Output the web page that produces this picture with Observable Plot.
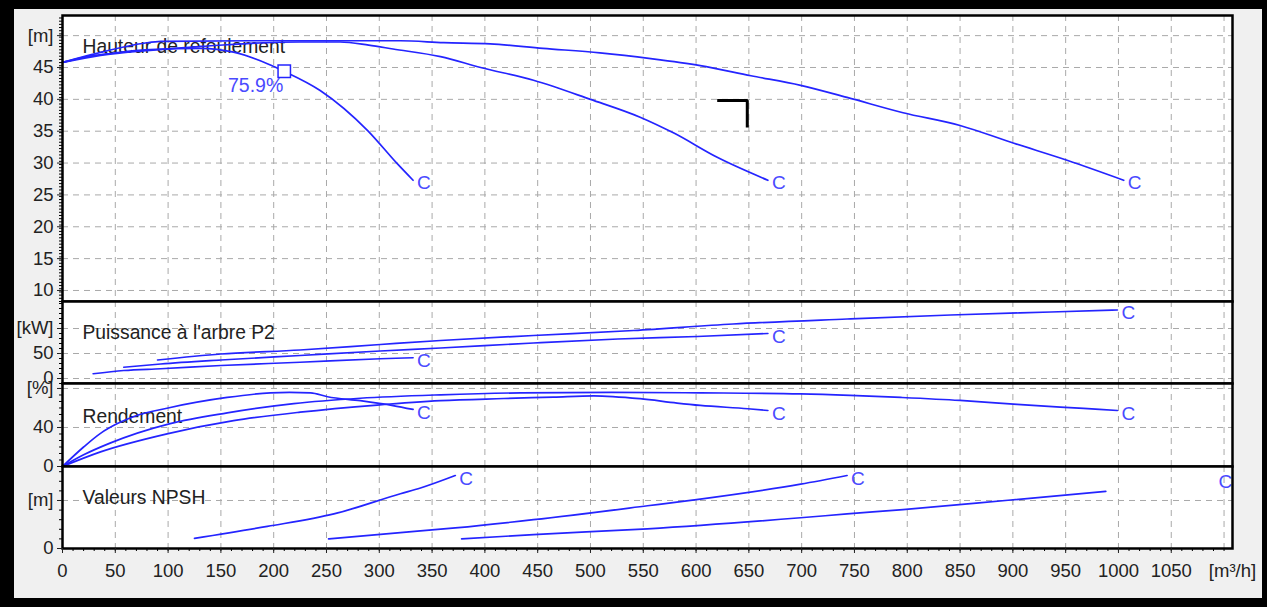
<!DOCTYPE html>
<html><head><meta charset="utf-8">
<script src="https://cdn.jsdelivr.net/npm/d3@7"></script>
<script src="https://cdn.jsdelivr.net/npm/@observablehq/plot@0.6"></script>
<style>
html,body{margin:0;padding:0;background:#000;}
#wrap{position:relative;width:1267px;height:607px;overflow:hidden;background:#000;}
#inner{position:absolute;left:14px;top:9px;width:1248px;height:589px;background:#f0f0f0;}
</style></head><body><div id="wrap"><div id="inner"></div></div>
<script>
// ---------- data ----------
const xTickLabels = [0,50,100,150,200,250,300,350,400,450,500,550,600,650,700,750,800,850,900,950,1000,1050];
const xGridTicks = [50,100,150,200,250,300,350,400,450,500,550,600,650,700,750,800,850,900,950,1000,1050,1100];
const xUnit = "[m³/h]";

const headTicks = [10,15,20,25,30,35,40,45,50];
const powerTicks = [0,50,100];
const effTicks = [0,40,80];
const npshTicks = [0,10];
const units = ["[m]","[kW]","[%]","[m]"];
const panelTitles = ["Hauteur de refoulement","Puissance à l'arbre P2","Rendement","Valeurs NPSH"];

// Hauteur de refoulement [m] vs Q [m³/h]
const headA = [[0,45.8],[20,46.6],[45,47.2],[83,47.8],[131,48.0],[162,47.4],[194,45.6],[210,44.4],[244,41.4],[289,35.1],[317,29.9],[332,27.3]];
const headB = [[0,45.8],[36,46.9],[83,47.7],[131,48.3],[178,48.8],[225,49.0],[263,49.0],[290,48.5],[313,47.9],[358,46.7],[396,45.0],[446,43.0],[500,40.0],[547,37.2],[579,34.7],[620,30.9],[668,27.3]];
const headC = [[0,45.8],[39,47.5],[77,48.8],[93,49.1],[178,49.2],[320,49.2],[361,48.9],[405,48.7],[455,48.0],[509,47.3],[557,46.4],[604,45.3],[652,43.7],[699,42.2],[743,40.3],[796,37.9],[850,35.9],[901,33.1],[952,30.4],[1005,27.3]];

// Puissance à l'arbre P2 [kW]
const powerA = [[29,9.5],[58,16],[93,19.5],[150,26],[225,32.5],[301,39.5],[332,41.5]];
const powerB = [[58,22.5],[93,29],[150,37],[225,46],[301,55],[358,61],[446,71],[526,79],[601,84],[668,90]];
const powerC = [[90,37],[150,49],[225,57],[301,68],[358,76],[446,86],[541,96],[635,109],[743,119],[841,127],[936,133],[999,137]];

// Rendement [%]
const effA = [[0,0],[20,20],[36,34],[52,44],[67,51],[100,60],[156,70.8],[197,75.5],[215,76],[235,75.5],[251,71.5],[282,67.5],[313,62.5],[332,58.5]];
const effB = [[0,0],[36,15],[99,33.5],[162,47],[225,55.7],[298,63],[358,67.5],[418,69.7],[465,71.2],[503,72.5],[547,69.5],[582,65],[604,62.6],[649,59.2],[668,57.4]];
const effC = [[0,0],[20,12],[45,24],[102,44],[156,55],[219,64.5],[282,70],[358,73.5],[434,75.5],[520,76],[604,75.5],[699,74.5],[746,73],[794,70.8],[850,67.7],[904,63.6],[967,59.5],[999,57.4]];

// Valeurs NPSH [m]
const npshA = [[125,2.1],[194,4.6],[257,7.2],[320,11.4],[339,12.6],[372,15.2]];
const npshB = [[252,2.0],[320,3.3],[372,4.3],[446,6.0],[554,8.9],[604,10.3],[699,13.4],[743,15.2]];
const npshC = [[378,2.0],[446,2.9],[554,4.1],[699,6.4],[743,7.2],[796,8.1],[898,10.1],[988,11.9]];
const npshLabels = [[372,15.2],[743,15.2],[1091,14.4]];

// best efficiency point of curve A and duty corner mark
const bepA = [{q:210, h:44.4, eff:75.9}];
const dutyMark = [[620,39.8],[648.5,39.8],[648.5,35.6]];

// ---------- layout / style ----------
const W = 1267, H = 607;
const xDomain = [0, 1108];
const BLUE = "#2424ff", CBLUE = "#4a4aff", GRID = "#a9a9a9", TXT = "#222";
const FONT = "'Liberation Sans', Arial, sans-serif";
const panels = [
  {top:15,  bottom:301, domain:[8.27,53.16], ticks:headTicks,  minor:0.5,  curves:[headA,headB,headC], titleDy:31.4},
  {top:301, bottom:383, domain:[-10,154],    ticks:powerTicks, minor:10,   curves:[powerA,powerB,powerC], titleDy:31.5},
  {top:383, bottom:466, domain:[0,85.1],     ticks:effTicks,   minor:40/6, curves:[effA,effB,effC], titleDy:33},
  {top:466, bottom:548, domain:[0,17.08],    ticks:npshTicks,  minor:2,    curves:[npshA,npshB,npshC], titleDy:31.5}
];

const wrap = document.getElementById("wrap");
const px = d => d[0], py = d => d[1];

panels.forEach((p, i) => {
  const unit = units[i];
  const top = p.ticks[p.ticks.length - 1];
  const minorTicks = d3.range(p.domain[0], p.domain[1], p.minor).map(v => Math.round(v*1000)/1000)
    .filter(v => v >= p.domain[0] && v <= p.domain[1]);
  const ends = i === 3 ? npshLabels : p.curves.map(c => c[c.length - 1]);
  const marks = [
    Plot.frame({fill: "white"}),
    Plot.gridX(xGridTicks, {stroke: GRID, strokeOpacity: 1, strokeDasharray: "6,5"}),
    Plot.gridY(p.ticks, {stroke: GRID, strokeOpacity: 1, strokeDasharray: "6,5"}),
    Plot.text([panelTitles[i]], {frameAnchor: "top-left", text: d => d, dx: 20, dy: p.titleDy,
      textAnchor: "start", lineAnchor: "middle", fill: TXT, fontSize: 19.3}),
    ...p.curves.map(c => Plot.line(c, {x: px, y: py, stroke: BLUE, strokeWidth: 1.7, curve: "monotone-x"})),
    Plot.text(ends, {x: px, y: py, text: () => "C", textAnchor: "start", lineAnchor: "middle",
      dx: 4, dy: 3, fill: CBLUE, fontSize: 19})
  ];
  if (i === 0) {
    marks.push(
      Plot.dot(bepA, {x: "q", y: "h", symbol: "square", r: 7, stroke: BLUE, strokeWidth: 1.5, fill: "white"}),
      Plot.text(bepA, {x: "q", y: "h", text: d => d.eff.toFixed(1) + "%", textAnchor: "end", lineAnchor: "middle",
        dx: -1, dy: 14, fill: CBLUE, fontSize: 19.5}),
      Plot.line(dutyMark, {x: px, y: py, stroke: "#000", strokeWidth: 3, strokeLinejoin: "miter", strokeLinecap: "butt"})
    );
  }
  marks.push(
    Plot.frame({stroke: "#000", strokeWidth: 2.5}),
    Plot.axisY(minorTicks, {anchor: "left", tickSize: 3, tickFormat: () => "", color: "#000", label: null}),
    Plot.axisY(p.ticks, {anchor: "left", tickSize: 5, tickPadding: 4, label: null,
      tickFormat: d => d === top ? unit : String(d), fontSize: 18.5, color: TXT})
  );
  if (i === 3) {
    marks.push(
      Plot.axisX(d3.range(0, 1101, 10), {anchor: "bottom", tickSize: 3, tickFormat: () => "", color: "#000", label: null}),
      Plot.axisX(xTickLabels, {anchor: "bottom", tickSize: 5, tickPadding: 10, label: null,
        tickFormat: d => String(d), fontSize: 18.5, color: TXT}),
      Plot.text([xUnit], {frameAnchor: "bottom-right", text: d => d, dy: 23, textAnchor: "middle",
        lineAnchor: "middle", fill: TXT, fontSize: 18.5})
    );
  }
  const svg = Plot.plot({
    width: W, height: H,
    marginLeft: 62, marginRight: W - 1232,
    marginTop: p.top, marginBottom: H - p.bottom,
    x: {domain: xDomain, axis: null},
    y: {domain: p.domain, axis: null},
    style: {position: "absolute", left: "0px", top: "0px", background: "transparent",
      overflow: "visible", fontFamily: FONT, fontSize: "18px", maxWidth: "none"},
    marks
  });
  wrap.appendChild(svg);
});
</script></body></html>
